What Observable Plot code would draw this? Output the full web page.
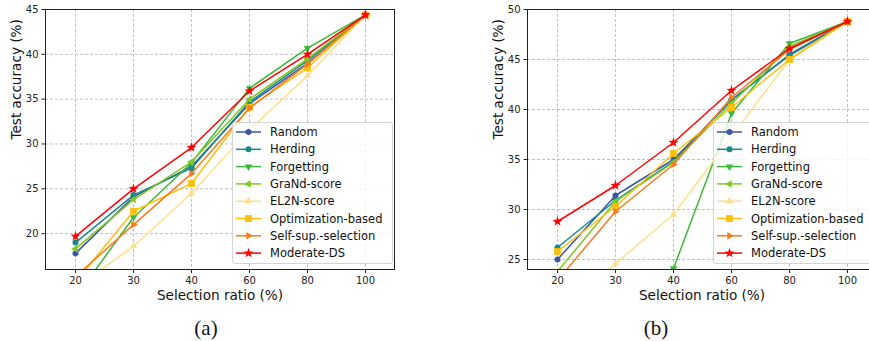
<!DOCTYPE html>
<html><head><meta charset="utf-8">
<script src="https://cdn.jsdelivr.net/npm/d3@7"></script>
<script src="https://cdn.jsdelivr.net/npm/@observablehq/plot@0.6"></script>
<style>
html,body{margin:0;padding:0;background:#fff;overflow:hidden;}
#root{position:relative;width:869px;height:341px;overflow:hidden;font-family:"DejaVu Sans";}
.panel{position:absolute;top:0;width:410px;}
.legend{position:absolute;background:rgba(255,255,255,0.8);border:1px solid #d4d4d4;border-radius:3px;box-sizing:border-box;}
.legend svg{display:block;}
.cap{position:absolute;font-family:"Liberation Serif";font-size:21px;color:#111;transform:translate(-50%,-50%);white-space:nowrap;}
</style></head><body><div id="root"></div>
<script>
const ratios = [20, 30, 40, 60, 80, 100];
const methods = ["Random","Herding","Forgetting","GraNd-score","EL2N-score","Optimization-based","Self-sup.-selection","Moderate-DS"];
const colors = ["#3a56a8","#168a8c","#3db83a","#80c91d","#ffdf8c","#fcbf0d","#f97b1c","#ff0000"];
// panel (a)
const accA = [
  [17.8, 24.1, 27.5, 34.5, 39.0, 44.4],
  [19.0, 24.3, 27.3, 34.7, 39.3, 44.4],
  [12.9, 21.8, 27.9, 36.2, 40.7, 44.4],
  [18.3, 23.8, 28.0, 35.0, 39.5, 44.4],
  [13.9, 18.6, 24.5, 31.6, 37.6, 44.4],
  [14.6, 22.5, 25.6, 34.1, 38.5, 44.4],
  [15.2, 21.0, 26.7, 34.0, 38.9, 44.4],
  [19.7, 25.0, 29.6, 35.9, 40.0, 44.4]
];
// panel (b)
const accB = [
  [25.0, 31.4, 35.0, 40.9, 45.5, 48.8],
  [26.2, 30.9, 34.8, 41.0, 45.4, 48.8],
  [18.5, 21.0, 24.1, 39.6, 46.6, 48.8],
  [23.8, 30.8, 34.7, 40.6, 46.3, 48.8],
  [18.8, 24.6, 29.5, 37.3, 45.0, 48.8],
  [25.8, 30.3, 35.6, 40.2, 45.0, 48.8],
  [22.9, 29.8, 34.5, 41.2, 46.0, 48.8],
  [28.8, 32.4, 36.7, 41.9, 46.1, 48.8]
];
const yTicksA = [20, 25, 30, 35, 40, 45];
const yTicksB = [25, 30, 35, 40, 45, 50];
const yDomainA = [16, 45];
const yDomainB = [24, 50];
const xLabel = "Selection ratio (%)";
const yLabel = "Test accuracy (%)";
const captions = ["(a)", "(b)"];

function poly(n, rot, scale) {
  return {draw(ctx, size) {
    const r = Math.sqrt(size / Math.PI) * scale;
    for (let i = 0; i < n; i++) {
      const a = rot + 2 * Math.PI * i / n;
      const x = r * Math.sin(a), y = -r * Math.cos(a);
      i ? ctx.lineTo(x, y) : ctx.moveTo(x, y);
    }
    ctx.closePath();
  }};
}
const circleSym = {draw(ctx, size) { const r = Math.sqrt(size / Math.PI); ctx.moveTo(r, 0); ctx.arc(0, 0, r, 0, 2 * Math.PI); }};
const starSym = {draw(ctx, size) {
  const R = Math.sqrt(size / Math.PI) * 1.75, ri = R * 0.4;
  for (let i = 0; i < 10; i++) {
    const a = Math.PI * i / 5, rr = i % 2 ? ri : R;
    const x = rr * Math.sin(a), y = -rr * Math.cos(a);
    i ? ctx.lineTo(x, y) : ctx.moveTo(x, y);
  }
  ctx.closePath();
}};
const symbols = [
  poly(6, 0, 1.12),           // hexagon
  circleSym,                  // circle
  poly(3, Math.PI, 1.45),     // triangle down
  poly(3, -Math.PI / 2, 1.45),// triangle left
  poly(3, 0, 1.45),           // triangle up
  poly(4, Math.PI / 4, 1.6),  // square
  poly(3, Math.PI / 2, 1.45), // triangle right
  starSym                     // star
];
const R = 3;

const root = document.getElementById("root");

function panel(acc, yDomain, yTicks, left, legendLeft, legendWidth, cap, capX) {
  const grid = {stroke: "#b0b0b0", strokeOpacity: 1, strokeWidth: 0.8, strokeDasharray: "3,2"};
  const marks = [Plot.gridX(ratios, grid), Plot.gridY(yTicks, grid)];
  methods.forEach((m, i) => {
    const data = ratios.map((r, j) => ({r, v: acc[i][j]}));
    marks.push(Plot.line(data, {x: "r", y: "v", stroke: colors[i], strokeWidth: 1.5, clip: true}));
    marks.push(Plot.dot(data, {x: "r", y: "v", fill: colors[i], stroke: "none", r: R, symbol: symbols[i], clip: true}));
  });
  marks.push(Plot.frame({stroke: "#222", strokeWidth: 1}));
  marks.push(Plot.axisX(ratios, {tickSize: 4, tickPadding: 3, fontSize: 10, label: null}));
  marks.push(Plot.axisY(yTicks, {tickSize: 3.5, tickPadding: 3.5, fontSize: 10, label: null}));
  marks.push(Plot.text([xLabel], {text: d => d, frameAnchor: "bottom", dy: 30, fontSize: 13.6, fill: "#111"}));
  marks.push(Plot.text([yLabel], {text: d => d, frameAnchor: "left", rotate: -90, dx: -29, fontSize: 13.6, fill: "#111"}));
  const svg = Plot.plot({
    width: 410, height: 310,
    marginLeft: 45, marginRight: 16, marginTop: 9, marginBottom: 41,
    x: {type: "point", domain: ratios, padding: 0.5},
    y: {domain: yDomain},
    style: {fontFamily: "DejaVu Sans", fontSize: "10px", color: "#222", background: "transparent", overflow: "visible"},
    marks
  });
  const div = document.createElement("div");
  div.className = "panel";
  div.style.left = left + "px";
  div.appendChild(svg);
  root.appendChild(div);

  // legend
  const lg = document.createElement("div");
  lg.className = "legend";
  const lgH = 142;
  lg.style.left = legendLeft + "px";
  lg.style.top = "122px";
  lg.style.width = legendWidth + "px";
  lg.style.height = lgH + "px";
  const s = d3.create("svg").attr("width", legendWidth - 2).attr("height", lgH - 2);
  methods.forEach((m, i) => {
    const cy = 9 + i * 17.3;
    const g = s.append("g").attr("transform", `translate(0,${cy})`);
    g.append("line").attr("x1", 3).attr("x2", 28).attr("y1", 0).attr("y2", 0).attr("stroke", colors[i]).attr("stroke-width", 1.5);
    const p = d3.path();
    symbols[i].draw(p, Math.PI * R * R);
    g.append("path").attr("d", p.toString()).attr("transform", "translate(15.5,0)").attr("fill", colors[i]);
    g.append("text").attr("x", 37).attr("y", 0).attr("dy", "0.35em").attr("font-family", "DejaVu Sans").attr("font-size", 11.5).attr("fill", "#111").text(m);
  });
  lg.appendChild(s.node());
  root.appendChild(lg);

  const c = document.createElement("div");
  c.className = "cap";
  c.style.left = capX + "px";
  c.style.top = "328px";
  c.textContent = cap;
  root.appendChild(c);
}

panel(accA, yDomainA, yTicksA, 0, 232, 161, captions[0], 206);
panel(accB, yDomainB, yTicksB, 482, 713, 162, captions[1], 656);
</script></body></html>
